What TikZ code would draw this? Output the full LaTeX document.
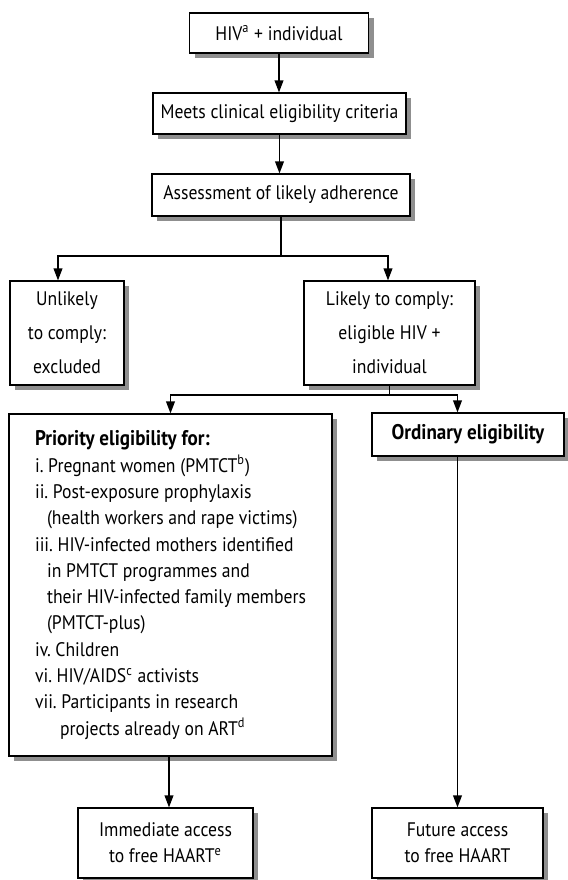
\documentclass[tikz,border=0pt]{standalone}
\usepackage{fontspec}
\setmainfont{PT Sans}[FakeStretch=0.9]
\usepackage{tikz}
\usetikzlibrary{arrows.meta, positioning, calc}
\definecolor{shadowgray}{HTML}{8F8F8F}

\begin{document}
\begin{tikzpicture}[
      x=0.5pt, y=-0.5pt,
      every node/.style={font=\fontsize{9.8}{13.15}\selectfont},
      block/.style={draw=black, rectangle, line width=0.6pt, fill=white, align=center, inner sep=0pt},
      boxshadow/.style={rectangle, fill=shadowgray, draw=none, inner sep=0pt},
      line/.style={draw=black, line width=0.6pt, -{Triangle[length=6pt, width=4.4pt]}},
      link/.style={draw=black, line width=0.6pt}
  ]
      \useasboundingbox (0,0) rectangle (568,880);
      \frenchspacing

      % Shadows, drawn first so the boxes sit on top
      \foreach \x/\y/\w/\h in {279/33/89.5/20, 279.5/113.5/126.5/20.5, 281/195/129/21,
                               67/333/57/52, 389.5/333/85.5/52, 170.5/585/161.5/171,
                               468/434.5/96/21.5, 165.5/843/87.5/35, 457.5/843/85.5/35}
        \node [boxshadow, minimum width=\w pt, minimum height=\h pt] at (\x+5, \y+5) {};

      % Top: screening chain
      \node [block, minimum width=89.5pt, minimum height=20pt] (hiv) at (279, 33) {HIV\textsuperscript{a} + individual};
      \node [block, minimum width=126.5pt, minimum height=20.5pt] (meets) at (279.5, 113.5) {Meets clinical eligibility criteria};
      \node [block, minimum width=129pt, minimum height=21pt] (assess) at (281, 195) {Assessment of likely adherence};

      % Middle: adherence outcome
      \node [block, minimum width=57pt, minimum height=52pt, font=\fontsize{9.8}{17}\selectfont] (unlikely) at (67, 333) {Unlikely\\to comply:\\excluded};
      \node [block, minimum width=85.5pt, minimum height=52pt, font=\fontsize{9.8}{17}\selectfont] (likely) at (389.5, 333) {Likely to comply:\\eligible HIV +\\individual};

      % Eligibility groups
      \node [block, minimum width=161.5pt, minimum height=171pt, align=left] (priority) at (170.5, 585) {%
        {\fontsize{10.6}{13.15}\selectfont\bfseries Priority eligibility for:}\\
        i. Pregnant women (PMTCT\textsuperscript{b})\\
        ii. Post-exposure prophylaxis\\
        \hspace*{6pt}(health workers and rape victims)\\
        iii. HIV-infected mothers identified\\
        \hspace*{6pt}in PMTCT programmes and\\
        \hspace*{6pt}their HIV-infected family members\\
        \hspace*{6pt}(PMTCT-plus)\\
        iv. Children\\
        vi. HIV/AIDS\textsuperscript{c} activists\\
        vii. Participants in research\\
        \hspace*{12.5pt}projects already on ART\textsuperscript{d}};
      \node [block, minimum width=96pt, minimum height=21.5pt, font=\fontsize{10.6}{13}\selectfont\bfseries] (ordinary) at (468, 434.5) {Ordinary eligibility};

      % Bottom: access to treatment
      \node [block, minimum width=87.5pt, minimum height=35pt, font=\fontsize{9.8}{13}\selectfont] (immediate) at (165.5, 843) {Immediate access\\to free HAART\textsuperscript{e}};
      \node [block, minimum width=85.5pt, minimum height=35pt, font=\fontsize{9.8}{13}\selectfont] (future) at (457.5, 843) {Future access\\to free HAART};

      % Junctions
      \coordinate (fork1) at (281, 256);
      \coordinate (fork2) at (389.5, 395);

      % Connections
      \path [line] (hiv.south) -- (hiv.south |- meets.north);
      \path [line] (meets.south) -- (meets.south |- assess.north);
      \path [link] (assess.south) -- (fork1);
      \path [line] (fork1) -| ([xshift=-4.5pt]unlikely.north);
      \path [line] (fork1) -| ([xshift=-0.75pt]likely.north);
      \path [link] (likely.south) -- (fork2);
      \path [line] (fork2) -| (priority.north);
      \path [line] (fork2) -| (future.north |- ordinary.north);
      \path [line] (future.north |- ordinary.south) -- (future.north);
      \path [line] ([xshift=-0.75pt]priority.south) -- ([xshift=-0.75pt]priority.south |- immediate.north);
  \end{tikzpicture}
\end{document}
